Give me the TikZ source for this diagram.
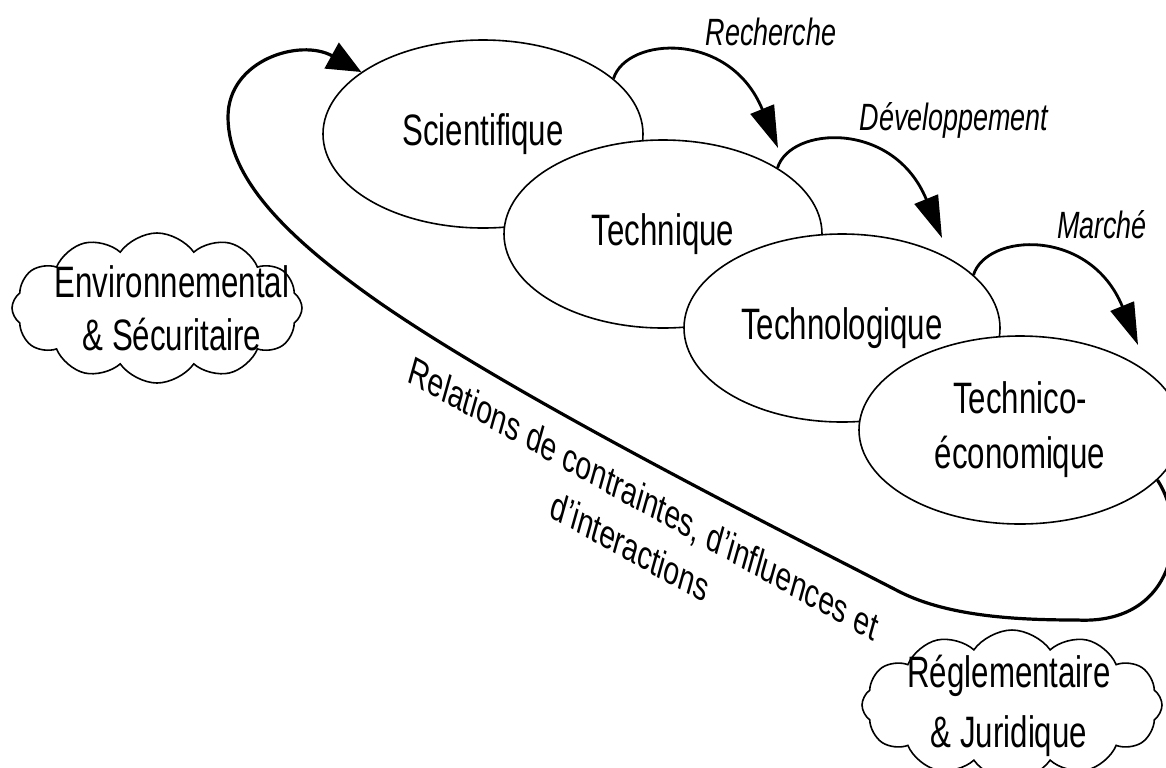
\documentclass[tikz,border=0pt]{standalone}
\usepackage{graphicx}
\usepackage{fontspec}
\setmainfont{Liberation Sans}
\usetikzlibrary{shapes.geometric,shapes.symbols,arrows.meta}

% condensed, centred block of text (one or more lines)
\newcommand\narrowtext[1]{\scalebox{0.71}[1]{\begin{tabular}{@{}c@{}}#1\end{tabular}}}
% tilted block, turned first and condensed afterwards
\newcommand\tiltedtext[2]{\scalebox{0.71}[1]{\rotatebox{#1}{\begin{tabular}{@{}c@{}}#2\end{tabular}}}}

\begin{document}
\begin{tikzpicture}[x=0.5pt,y=-0.5pt,
  stage/.style={ellipse, draw, line width=0.8pt, fill=white, inner sep=0pt,
    minimum height=94pt, font=\fontsize{22}{27.5}\selectfont},
  flow/.style={line width=1.4pt, -{Triangle[length=21pt,width=12.5pt]}},
  loopline/.style={line width=1.6pt, -{Triangle[length=17pt,width=14.5pt]}},
  flowlabel/.style={anchor=base, inner sep=0pt, font=\fontsize{19}{23}\selectfont\itshape},
  cloudbox/.style={cloud, draw, line width=0.8pt, fill=white, cloud puffs=12,
    cloud puff arc=110, aspect=2, inner sep=0pt},
  cloudtext/.style={inner sep=0pt, font=\fontsize{22}{26.5}\selectfont},
  reltext/.style={inner sep=0pt, font=\fontsize{20}{26}\selectfont}
]
\useasboundingbox (0,0) rectangle (1166,767);
\fill[white] (0,0) rectangle (1166,767);
\clip (0,0) rectangle (1166,767);

% the four stages, each drawn over the previous one
\node[stage, minimum width=160pt] (sci)    at (483,134) {\narrowtext{Scientifique}};
\node[stage, minimum width=159pt] (tech)   at (663,234) {\narrowtext{Technique}};
\node[stage, minimum width=158pt] (techno) at (842,328) {\narrowtext{Technologique}};
\node[stage, minimum width=161pt] (teco)   at (1020,430) {\narrowtext{Technico-\\économique}};

% feedback loop from the last stage back to the first
\draw[loopline] (teco.-20) .. controls (1190,530) and (1175,625) .. (1077,620)
  .. controls (1020,620) and (950,617) .. (900,592)
  .. controls (780,530) and (520,400) .. (380,303)
  .. controls (290,240) and (228,180) .. (228,117)
  .. controls (228,60) and (300,38) .. (sci.153);

\node[reltext] (rel) at (636,526)
  {\tiltedtext{-21.6}{Relations de contraintes, d’influences et\\d’interactions}};

% transitions between stages
\coordinate (rechTip) at (778,148);
\coordinate (devTip)  at (942,238);
\coordinate (marTip)  at (1138,345);
\draw[flow] (sci.23.8)  .. controls +(13,-42) and +(-48,-118) .. (rechTip);
\draw[flow] (tech.30.9) .. controls +(13,-42) and +(-48,-118) .. (devTip);
\draw[flow] (techno.22.3) .. controls +(13,-42) and +(-48,-118) .. (marTip);

\node[flowlabel] (rechLbl) at (771,45)  {\scalebox{0.71}[1]{Recherche}};
\node[flowlabel] (devLbl)  at (954,130) {\scalebox{0.71}[1]{Développement}};
\node[flowlabel] (marLbl)  at (1102,238) {\scalebox{0.71}[1]{Marché}};

% surrounding domains
\node[cloudbox, minimum width=145pt, minimum height=75pt] (envCloud) at (157,308) {};
\node[cloudtext] (envText) at (172,313) {\narrowtext{Environnemental\\\& Sécuritaire}};

\node[cloudbox, minimum width=150pt, minimum height=75pt] (regCloud) at (1012,705) {};
\node[cloudtext, font=\fontsize{22}{30}\selectfont] (regText) at (1009,705)
  {\narrowtext{Réglementaire\\\& Juridique}};
\end{tikzpicture}
\end{document}
